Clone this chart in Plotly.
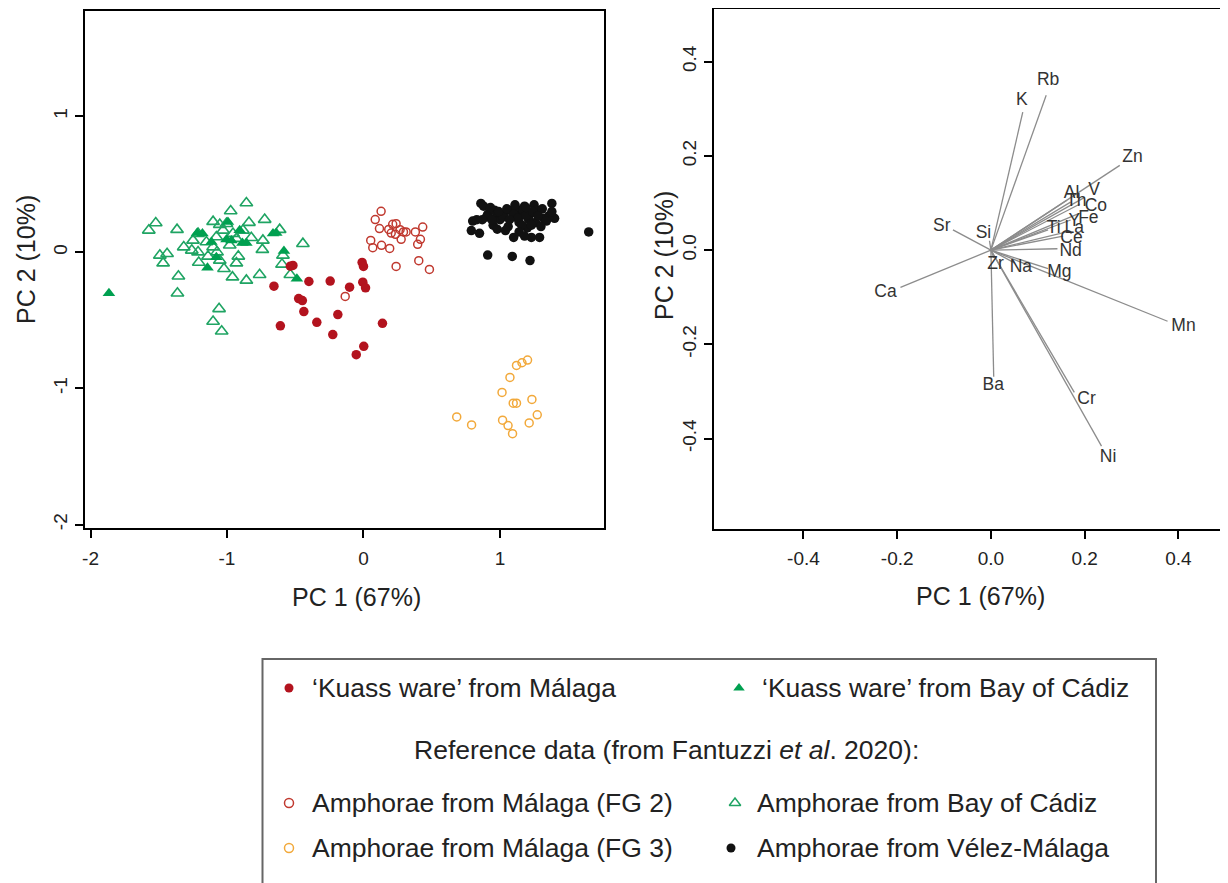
import plotly.graph_objects as go

# page body has an 8px margin: the figure is drawn at (8, 8)
OFF = 8
W, H = 1220, 875

# ---------------- data: scores (left panel) ----------------
kuass_malaga_x = [-0.536, -0.517, -0.656, -0.400, -0.244, -0.102, -0.010, 0.000, -0.005, 0.015,
                  -0.475, -0.448, -0.437, -0.188, -0.342, -0.609, -0.225, 0.139, 0.002, -0.053]
kuass_malaga_y = [-0.101, -0.096, -0.248, -0.214, -0.211, -0.256, -0.074, -0.103, -0.219, -0.260,
                  -0.339, -0.354, -0.435, -0.457, -0.514, -0.540, -0.604, -0.521, -0.690, -0.752]

kuass_cadiz_x = [-1.865, -1.219, -1.180, -0.993, -1.004, -0.968, -0.907, -0.887, -0.858,
                 -0.663, -0.639, -0.583, -1.143, -1.078, -0.488, -1.114]
kuass_cadiz_y = [-0.300, 0.142, 0.138, 0.223, 0.094, 0.088, 0.162, 0.069, 0.069,
                 0.138, 0.142, 0.010, -0.113, -0.035, -0.194, 0.076]

fg2_x = [0.129, 0.086, 0.214, 0.239, 0.117, 0.185, 0.203, 0.268, 0.293, 0.312, 0.234, 0.276,
         0.380, 0.434, 0.417, 0.397, 0.053, 0.068, 0.132, 0.192, 0.239, 0.405, 0.483, -0.134]
fg2_y = [0.302, 0.241, 0.206, 0.211, 0.175, 0.169, 0.142, 0.167, 0.150, 0.150, 0.133, 0.096,
         0.150, 0.186, 0.096, 0.059, 0.088, 0.035, 0.052, 0.029, -0.103, -0.061, -0.125, -0.324]

fg3_x = [1.202, 1.161, 1.121, 1.073, 1.015, 1.097, 1.121, 1.234, 0.683, 0.792, 1.019, 1.059,
         1.214, 1.273, 1.092]
fg3_y = [-0.791, -0.811, -0.831, -0.919, -1.029, -1.108, -1.108, -1.081, -1.209, -1.268, -1.233,
         -1.273, -1.253, -1.194, -1.332]

cadiz_x = [-0.858, -0.973, -1.522, -1.573, -1.366, -1.102, -1.053, -1.004, -0.839, -0.724, -0.614,
           -0.444, -1.492, -1.439, -1.468, -1.356, -1.363, -1.058, -1.102, -1.039, -1.317, -1.249,
           -1.212, -1.151, -1.102, -1.212, -1.207, -1.139, -1.073, -1.053, -1.022, -0.960, -0.931,
           -0.917, -0.858, -0.761, -0.741, -0.737, -0.822, -0.883, -0.956, -1.029, -1.078, -0.980,
           -0.590, -0.597, -0.536, -1.258, -0.931]
cadiz_y = [0.363, 0.304, 0.216, 0.162, 0.167, 0.226, 0.204, 0.211, 0.219, 0.241, 0.167,
           0.064, -0.022, -0.010, -0.079, -0.175, -0.300, -0.415, -0.508, -0.580, 0.039, 0.088,
           0.138, 0.076, 0.039, 0.002, -0.074, -0.029, 0.002, -0.059, -0.120, -0.182, -0.079,
           -0.029, -0.206, -0.164, 0.020, 0.088, 0.108, 0.162, 0.138, 0.162, 0.113, 0.052,
           -0.022, -0.088, -0.164, 0.015, 0.101]

velez_x = [0.79, 0.85, 0.80, 0.86, 0.88, 0.91, 0.97, 1.00, 0.96, 1.03, 1.08, 1.12, 1.18, 1.25,
           1.38, 1.40, 1.32, 1.26, 1.29, 1.23, 1.20, 1.14, 1.10, 1.06, 1.02, 0.95, 0.90, 0.87,
           0.83, 1.22, 1.15, 1.17, 1.21, 1.27, 1.31, 1.36, 0.91, 1.09, 1.22, 1.65, 0.93, 0.99,
           1.05, 1.10, 1.13, 1.16, 1.19, 1.24, 1.28, 1.34, 1.11, 1.19, 1.07, 0.98, 1.30, 1.04,
           0.94, 1.23, 1.14, 1.38, 1.18]
velez_y = [0.16, 0.14, 0.23, 0.36, 0.34, 0.28, 0.26, 0.24, 0.31, 0.28, 0.31, 0.32, 0.34, 0.35,
           0.36, 0.25, 0.25, 0.22, 0.11, 0.11, 0.18, 0.22, 0.11, 0.19, 0.26, 0.20, 0.26, 0.24,
           0.24, 0.28, 0.27, 0.31, 0.24, 0.31, 0.32, 0.27, -0.02, -0.03, -0.06, 0.15, 0.33, 0.30,
           0.32, 0.28, 0.25, 0.20, 0.27, 0.30, 0.27, 0.23, 0.35, 0.33, 0.24, 0.17, 0.19, 0.16,
           0.24, 0.20, 0.15, 0.30, 0.12]

# ---------------- data: loadings (right panel) ----------------
elements = ["Rb", "K", "Zn", "Al", "V", "Th", "Co", "Fe", "Y", "Ti", "La", "Ce", "Nd",
            "Mg", "Na", "Zr", "Mn", "Cr", "Ni", "Ba", "Ca", "Sr", "Si"]
load_x = [0.118, 0.068, 0.275, 0.162, 0.200, 0.170, 0.190, 0.186, 0.170, 0.122, 0.162, 0.154, 0.142,
          0.122, 0.050, 0.006, 0.377, 0.178, 0.236, 0.006, -0.193, -0.081, -0.003]
load_y = [0.329, 0.293, 0.180, 0.106, 0.112, 0.102, 0.098, 0.077, 0.064, 0.043, 0.039, 0.030, 0.003,
          -0.039, -0.027, -0.016, -0.151, -0.302, -0.416, -0.269, -0.079, 0.043, 0.020]
label_x = [0.122, 0.066, 0.302, 0.172, 0.220, 0.182, 0.224, 0.208, 0.178, 0.134, 0.178, 0.172, 0.170,
           0.146, 0.064, 0.010, 0.411, 0.204, 0.250, 0.005, -0.225, -0.105, -0.016]
label_y = [0.359, 0.318, 0.196, 0.120, 0.126, 0.104, 0.092, 0.066, 0.060, 0.045, 0.045, 0.024, -0.003,
           -0.048, -0.037, -0.030, -0.163, -0.318, -0.440, -0.288, -0.090, 0.051, 0.036]

# ---------------- axes ticks ----------------
left_xticks = [-2, -1, 0, 1]
left_xtext = ["-2", "-1", "0", "1"]
left_yticks = [-2, -1, 0, 1]
left_ytext = ["-2", "-1", "0", "1"]
right_ticks = [-0.4, -0.2, 0.0, 0.2, 0.4]
right_text = ["-0.4", "-0.2", "0.0", "0.2", "0.4"]

# ---------------- legend ----------------
legend_items = [
    ("‘Kuass ware’ from Málaga", "circle", "#B3131E"),
    ("‘Kuass ware’ from Bay of Cádiz", "triangle-up", "#00A050"),
    ("Amphorae from Málaga (FG 2)", "circle-open", "#C0392F"),
    ("Amphorae from Bay of Cádiz", "triangle-up-open", "#1FA463"),
    ("Amphorae from Málaga (FG 3)", "circle-open", "#F2A93B"),
    ("Amphorae from Vélez-Málaga", "circle", "#111111"),
]

FONT = "Liberation Sans, Arial, Helvetica, sans-serif"
RED = "#B3131E"
RED_OPEN = "#C0392F"
GREEN = "#00A050"
GREEN_OPEN = "#1FA463"
ORANGE = "#F2A93B"
BLACK = "#111111"


def px_x(p):
    return (p - OFF) / W


def px_y(p):
    return 1 - (p - OFF) / H


fig = go.Figure()

# left panel traces
fig.add_trace(go.Scatter(x=cadiz_x, y=cadiz_y, mode="markers", xaxis="x", yaxis="y",
                         marker=dict(symbol="triangle-up-open", size=11, color=GREEN_OPEN,
                                     line=dict(width=1.6, color=GREEN_OPEN)), showlegend=False))
fig.add_trace(go.Scatter(x=kuass_cadiz_x, y=kuass_cadiz_y, mode="markers", xaxis="x", yaxis="y",
                         marker=dict(symbol="triangle-up", size=11, color=GREEN,
                                     line=dict(width=0)), showlegend=False))
fig.add_trace(go.Scatter(x=fg2_x, y=fg2_y, mode="markers", xaxis="x", yaxis="y",
                         marker=dict(symbol="circle-open", size=8, color=RED_OPEN,
                                     line=dict(width=1.5, color=RED_OPEN)), showlegend=False))
fig.add_trace(go.Scatter(x=fg3_x, y=fg3_y, mode="markers", xaxis="x", yaxis="y",
                         marker=dict(symbol="circle-open", size=8, color=ORANGE,
                                     line=dict(width=1.5, color=ORANGE)), showlegend=False))
fig.add_trace(go.Scatter(x=velez_x, y=velez_y, mode="markers", xaxis="x", yaxis="y",
                         marker=dict(symbol="circle", size=9.5, color=BLACK, line=dict(width=0)),
                         showlegend=False))
fig.add_trace(go.Scatter(x=kuass_malaga_x, y=kuass_malaga_y, mode="markers", xaxis="x", yaxis="y",
                         marker=dict(symbol="circle", size=9.5, color=RED, line=dict(width=0)),
                         showlegend=False))

# right panel: loading vectors
lx, ly = [], []
for x, y in zip(load_x, load_y):
    lx += [0, x, None]
    ly += [0, y, None]
fig.add_trace(go.Scatter(x=lx, y=ly, mode="lines", xaxis="x2", yaxis="y2",
                         line=dict(color="#8C8C8C", width=1.3), showlegend=False))
fig.add_trace(go.Scatter(x=label_x, y=label_y, text=elements, mode="text", xaxis="x2", yaxis="y2",
                         textfont=dict(family=FONT, size=17.5, color="#333333"), showlegend=False))

# legend key markers (pixel-space overlay axis)
key_px_x = [289, 739, 289, 735, 289, 731]
key_px_y = [688, 688, 803, 803, 848, 848]
for (lab, sym, col), kx, ky in zip(legend_items, key_px_x, key_px_y):
    open_ = sym.endswith("open")
    fig.add_trace(go.Scatter(x=[kx], y=[ky], mode="markers", xaxis="x3", yaxis="y3",
                             marker=dict(symbol=sym, size=10 if "triangle" in sym else 9, color=col,
                                         line=dict(width=1.5 if open_ else 0, color=col)),
                             showlegend=False, hoverinfo="skip"))

axis_common = dict(showline=True, linecolor="black", linewidth=2, ticks="outside",
                   ticklen=8, tickwidth=1.5, tickcolor="black", showgrid=False, zeroline=False,
                   tickfont=dict(family=FONT, size=19, color="#222222"), automargin=False)

fig.update_layout(
    width=W, height=H, margin=dict(l=0, r=0, t=0, b=0),
    paper_bgcolor="white", plot_bgcolor="rgba(0,0,0,0)",
    xaxis=dict(domain=[px_x(84.5), px_x(604.4)], range=[-2.044, 1.765], tickmode="array",
               tickvals=left_xticks, ticktext=left_xtext, anchor="y", ticklabelstandoff=4,
               mirror=True, **axis_common),
    yaxis=dict(domain=[px_y(527.8), px_y(11)], range=[-2.024, 1.774], tickmode="array",
               tickvals=left_yticks, ticktext=left_ytext, anchor="x", tickangle=-90,
               ticklabelstandoff=0, mirror=True, **axis_common),
    xaxis2=dict(domain=[px_x(714), 1.0], range=[-0.591, 0.506], tickmode="array",
                tickvals=right_ticks, ticktext=right_text, anchor="y2", ticklabelstandoff=4,
                mirror=True, **axis_common),
    yaxis2=dict(domain=[px_y(528.5), px_y(9)], range=[-0.591, 0.512], tickmode="array",
                tickvals=right_ticks, ticktext=right_text, anchor="x2", tickangle=-90,
                ticklabelstandoff=0, mirror=False, **axis_common),
    xaxis3=dict(domain=[0, 1], range=[OFF, OFF + W], visible=False, anchor="y3", fixedrange=True),
    yaxis3=dict(domain=[0, 1], range=[OFF + H, OFF], visible=False, anchor="x3", fixedrange=True),
    showlegend=False,
)

annotations = []
# axis titles
for cx, cy, txt, ang in [(356, 597, "PC 1 (67%)", 0), (980, 596, "PC 1 (67%)", 0),
                         (26, 260, "PC 2 (10%)", -90), (664, 256, "PC 2 (10%)", -90)]:
    annotations.append(dict(x=px_x(cx), y=px_y(cy), xref="paper", yref="paper", text=txt,
                            showarrow=False, textangle=ang, xanchor="center", yanchor="middle",
                            font=dict(family=FONT, size=25, color="#222222")))

# legend texts
text_px_x = [310, 760, 310, 755, 310, 755]
for (lab, sym, col), tx, ty in zip(legend_items, text_px_x, key_px_y):
    annotations.append(dict(x=px_x(tx), y=px_y(ty), xref="paper", yref="paper", text=lab,
                            showarrow=False, xanchor="left", yanchor="middle",
                            font=dict(family=FONT, size=26.5, color="#222222")))
annotations.append(dict(x=px_x(412), y=px_y(750), xref="paper", yref="paper",
                        text="Reference data (from Fantuzzi <i>et al</i>. 2020):",
                        showarrow=False, xanchor="left", yanchor="middle",
                        font=dict(family=FONT, size=26.5, color="#222222")))
fig.update_layout(annotations=annotations)

fig.add_shape(type="rect", xref="paper", yref="paper", x0=px_x(262.5), x1=px_x(1156),
              y0=px_y(659), y1=-0.05, line=dict(color="#666666", width=2), fillcolor="rgba(0,0,0,0)")

fig.write_html("out.html")
